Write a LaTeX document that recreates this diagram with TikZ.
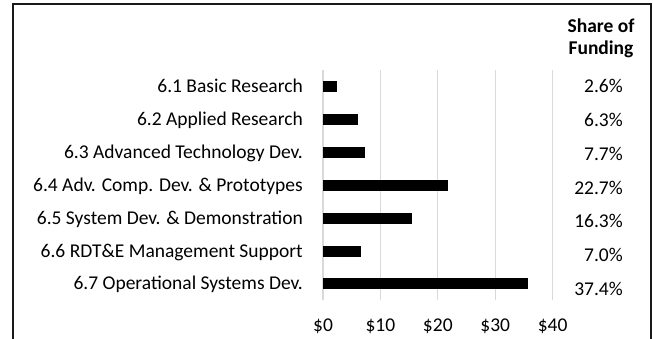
\documentclass[tikz,border=0pt]{standalone}
\usepackage{fontspec}
\setmainfont{Carlito}
\begin{document}
\begin{tikzpicture}[x=1pt,y=-1pt,
  lbl/.style={anchor=base east,inner sep=0pt,font=\fontsize{19.5}{22}\selectfont},
  pct/.style={anchor=base east,inner sep=0pt,font=\fontsize{19.5}{22}\selectfont},
  tick/.style={anchor=base,inner sep=0pt,font=\fontsize{19.5}{22}\selectfont},
  hdr/.style={anchor=base,inner sep=0pt,font=\fontsize{19.5}{22}\selectfont\bfseries},
  grid/.style={draw=black!15,line width=1.2pt},
  bar/.style={fill=black},
  frame/.style={draw=black!90,line width=2pt}]
\useasboundingbox (0,0) rectangle (653,339);
% frame
\draw[frame] (13,339) -- (13,4) -- (651,4) -- (651,339);
% gridlines
\foreach \k in {0,...,4} {
  \draw[grid] (323+57.4*\k,70) -- (323+57.4*\k,300);
  \pgfmathtruncatemacro{\v}{10*\k}
  \node[tick] (t\k) at (323+57.4*\k,331) {\$\v};
}
% bars and labels
\foreach \i/\name/\val/\p in {
  0/6.1 Basic Research/2.49/2.6\%,
  1/6.2 Applied Research/6.02/6.3\%,
  2/6.3 Advanced Technology Dev./7.36/7.7\%,
  3/6.4 Adv. Comp. Dev. \& Prototypes/21.7/22.7\%,
  4/6.5 System Dev. \& Demonstration/15.58/16.3\%,
  5/6.6 RDT\&E Management Support/6.69/7.0\%,
  6/6.7 Operational Systems Dev./35.75/37.4\%} {
  \pgfmathsetmacro{\yc}{87+32.83*\i}
  \fill[bar] (323,\yc-5.5) rectangle (323+5.74*\val,\yc+5.5);
  \node[lbl] (l\i) at (303,\yc+6) {\name};
  \node[pct] (p\i) at (623,87+33.7*\i+6) {\p};
}
% header
\node[hdr] (h1) at (601,33) {Share of};
\node[hdr] (h2) at (601,55) {Funding};
\end{tikzpicture}
\end{document}
